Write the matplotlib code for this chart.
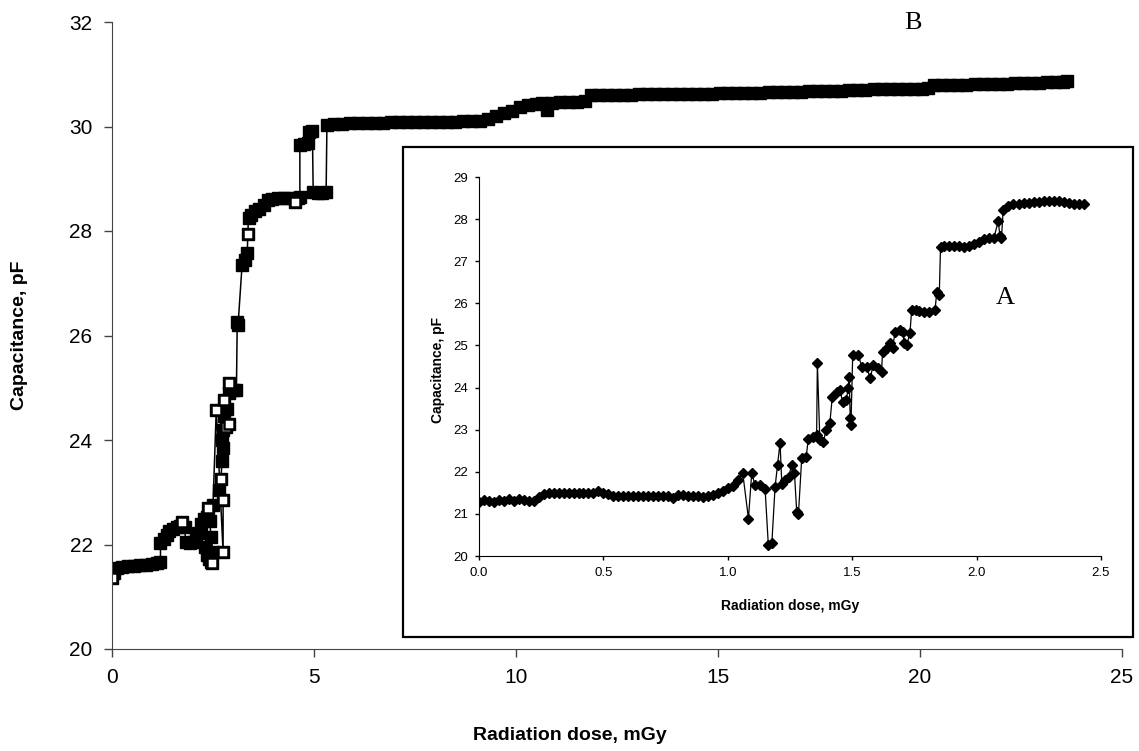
import matplotlib.pyplot as plt
from matplotlib.patches import Rectangle

plt.rcParams['font.family'] = ['Liberation Sans', 'DejaVu Sans']

# curve B (main plot): dose in mGy, capacitance in pF
dose_b = [
    0.00, 0.05, 0.12, 0.25, 0.40, 0.55, 0.70, 0.85, 1.00, 1.12, 1.20,
    1.20, 1.28, 1.35, 1.42, 1.50, 1.60, 1.68, 1.74, 1.80,
    1.82, 1.92, 2.02, 2.08, 2.14, 2.20, 2.28, 2.36,
    2.30, 2.34, 2.40, 2.46, 2.48, 2.50, 2.45, 2.42, 2.38, 2.50,
    2.58, 2.75, 2.75, 2.65, 2.70, 2.72, 2.74, 2.72, 2.75, 2.82, 2.90,
    2.78, 2.85, 2.78, 2.90, 2.90, 3.00, 3.08,
    3.10, 3.12, 3.22, 3.30, 3.35, 3.36, 3.38, 3.45, 3.55, 3.65, 3.75,
    3.85, 3.95, 4.10, 4.25, 4.40, 4.52, 4.60, 4.65,
    4.65, 4.75, 4.84, 4.88, 4.96, 4.98, 5.10, 5.20, 5.30,
    5.32, 5.50, 5.70, 5.90, 6.10, 6.30, 6.50, 6.70, 6.90, 7.10, 7.30,
    7.50, 7.70, 7.90, 8.10, 8.30, 8.50, 8.70, 8.90, 9.10,
    9.30, 9.50, 9.70, 9.90, 10.10, 10.30, 10.50, 10.65, 10.77, 10.90,
    11.10, 11.30, 11.50, 11.70, 11.85, 12.05, 12.25, 12.45, 12.65, 12.85,
    13.05, 13.25, 13.45, 13.65, 13.85, 14.05, 14.25, 14.45, 14.65, 14.85,
    15.05, 15.25, 15.45, 15.65, 15.85, 16.05, 16.25, 16.45, 16.65, 16.85,
    17.05, 17.25, 17.45, 17.65, 17.85, 18.05, 18.25, 18.45, 18.65, 18.85,
    19.05, 19.25, 19.45, 19.65, 19.85, 20.05, 20.20, 20.35, 20.55, 20.75,
    20.95, 21.15, 21.35, 21.55, 21.75, 21.95, 22.15, 22.35, 22.55, 22.75,
    22.95, 23.15, 23.35, 23.55, 23.65,
]
cap_b = [
    21.35, 21.45, 21.55, 21.57, 21.58, 21.58, 21.60, 21.61, 21.62, 21.64, 21.66,
    22.03, 22.10, 22.18, 22.26, 22.30, 22.33, 22.35, 22.43, 22.34,
    22.05, 22.03, 22.05, 22.20, 22.22, 22.40, 22.48, 22.52,
    21.95, 21.80, 21.72, 21.66, 21.65, 21.85, 22.15, 22.45, 22.70, 22.75,
    24.57, 21.86, 22.85, 23.05, 23.25, 23.60, 23.85, 24.00, 24.20, 24.25, 24.30,
    24.45, 24.60, 24.77, 24.90, 25.09, 24.95, 24.95,
    26.26, 26.20, 27.35, 27.45, 27.58, 27.95, 28.25, 28.30, 28.38, 28.42, 28.50,
    28.60, 28.62, 28.63, 28.63, 28.63, 28.55, 28.63, 28.65,
    29.65, 29.66, 29.68, 29.90, 29.92, 28.75, 28.73, 28.73, 28.75,
    30.03, 30.05, 30.05, 30.06, 30.06, 30.07, 30.07, 30.07, 30.08, 30.08, 30.08,
    30.08, 30.08, 30.09, 30.09, 30.09, 30.09, 30.10, 30.10, 30.11,
    30.14, 30.20, 30.26, 30.30, 30.37, 30.42, 30.44, 30.45, 30.31, 30.45,
    30.46, 30.46, 30.47, 30.48, 30.60, 30.61, 30.61, 30.61, 30.61, 30.61,
    30.62, 30.62, 30.62, 30.62, 30.62, 30.62, 30.62, 30.63, 30.63, 30.63,
    30.64, 30.64, 30.65, 30.65, 30.65, 30.65, 30.66, 30.66, 30.66, 30.66,
    30.66, 30.67, 30.67, 30.67, 30.67, 30.68, 30.70, 30.70, 30.70, 30.71,
    30.71, 30.71, 30.72, 30.72, 30.72, 30.72, 30.73, 30.79, 30.79, 30.80,
    30.80, 30.80, 30.81, 30.81, 30.82, 30.82, 30.82, 30.83, 30.83, 30.84,
    30.84, 30.85, 30.85, 30.86, 30.87,
]
# points of B that show as open squares
open_dose_b = [0.00, 1.74, 2.48, 2.38, 2.58, 2.75, 2.75, 2.70, 2.82, 2.90,
               2.78, 2.90, 3.36, 4.52]
open_cap_b = [21.35, 22.43, 21.65, 22.70, 24.57, 21.86, 22.85, 23.25, 24.25,
              24.30, 24.77, 25.09, 27.95, 28.55]

# curve A (inset)
dose_a = [
    0.00, 0.02, 0.04, 0.06, 0.08, 0.10, 0.12, 0.14, 0.16, 0.18, 0.20, 0.22,
    0.24, 0.26, 0.28, 0.30, 0.32, 0.34, 0.36, 0.38, 0.40, 0.42, 0.44, 0.46,
    0.48, 0.50, 0.52, 0.54, 0.56, 0.58, 0.60, 0.62, 0.64, 0.66, 0.68, 0.70,
    0.72, 0.74, 0.76, 0.78, 0.80, 0.82, 0.84, 0.86, 0.88, 0.90, 0.92, 0.94,
    0.96, 0.98, 1.00, 1.02, 1.04, 1.06,
    1.083, 1.096, 1.11, 1.13, 1.15, 1.163, 1.177, 1.19, 1.20, 1.21, 1.217,
    1.23, 1.244, 1.257, 1.268, 1.277, 1.284, 1.297, 1.315, 1.324, 1.344,
    1.357, 1.36, 1.37, 1.384, 1.395, 1.41, 1.42, 1.438, 1.45, 1.462, 1.475,
    1.485, 1.488, 1.492, 1.495, 1.502, 1.525, 1.538, 1.558, 1.572, 1.585,
    1.605, 1.618, 1.622, 1.638, 1.652, 1.663, 1.672, 1.692, 1.705, 1.708,
    1.719, 1.732, 1.739, 1.755, 1.77, 1.79, 1.81, 1.833, 1.84, 1.85,
    1.855, 1.87, 1.89, 1.91, 1.93, 1.95, 1.97, 1.99, 2.01, 2.03, 2.05, 2.07,
    2.087, 2.094, 2.10, 2.107, 2.127, 2.147, 2.17, 2.19, 2.21, 2.23, 2.25,
    2.27, 2.29, 2.31, 2.33, 2.35, 2.37, 2.39, 2.41, 2.43,
]
cap_a = [
    21.28, 21.32, 21.30, 21.28, 21.33, 21.30, 21.36, 21.30, 21.36, 21.32, 21.30, 21.30,
    21.40, 21.48, 21.50, 21.50, 21.50, 21.50, 21.50, 21.50, 21.50, 21.50, 21.50, 21.50,
    21.55, 21.50, 21.47, 21.42, 21.42, 21.42, 21.42, 21.42, 21.42, 21.42, 21.42, 21.42,
    21.42, 21.42, 21.42, 21.37, 21.45, 21.44, 21.43, 21.43, 21.43, 21.40, 21.42, 21.45,
    21.50, 21.55, 21.62, 21.66, 21.80, 21.97,
    20.89, 21.96, 21.68, 21.68, 21.58, 20.25, 20.30, 21.64, 22.16, 22.69, 21.72,
    21.80, 21.88, 22.16, 21.96, 21.05, 21.00, 22.32, 22.36, 22.79, 22.83,
    22.87, 24.58, 22.75, 22.71, 22.99, 23.15, 23.78, 23.90, 23.94, 23.66, 23.70,
    23.98, 24.26, 23.27, 23.11, 24.77, 24.77, 24.50, 24.50, 24.22, 24.54,
    24.46, 24.38, 24.85, 24.93, 25.05, 24.93, 25.33, 25.37, 25.33, 25.05,
    25.01, 25.29, 25.84, 25.84, 25.82, 25.80, 25.80, 25.84, 26.28, 26.20,
    27.34, 27.35, 27.35, 27.35, 27.35, 27.34, 27.36, 27.40, 27.46, 27.52, 27.55, 27.56,
    27.95, 27.59, 27.56, 28.22, 28.30, 28.36, 28.37, 28.38, 28.38, 28.40, 28.40,
    28.44, 28.44, 28.43, 28.42, 28.40, 28.38, 28.37, 28.36, 28.35,
]

x_ticks_main = [0, 5, 10, 15, 20, 25]
y_ticks_main = [20, 22, 24, 26, 28, 30, 32]
x_ticks_inset = [0.0, 0.5, 1.0, 1.5, 2.0, 2.5]
y_ticks_inset = [20, 21, 22, 23, 24, 25, 26, 27, 28, 29]

W, H = 1139, 751
fig = plt.figure(figsize=(W / 100, H / 100), dpi=100)


def px_box(left, top, right, bottom):
    # pixel edges -> figure fractions
    return [left / W, 1 - bottom / H, (right - left) / W, (bottom - top) / H]


ax = fig.add_axes(px_box(112, 22, 1122, 649))
ax.plot(dose_b, cap_b, color='black', lw=1.1, marker='s', ms=8,
        mfc='black', mec='black', mew=1)
ax.plot(open_dose_b, open_cap_b, ls='none', marker='s', ms=7,
        mfc='white', mec='black', mew=1.8)
ax.set_xlim(0, 25)
ax.set_ylim(20, 32)
ax.set_xticks(x_ticks_main)
ax.set_yticks(y_ticks_main)
for side in ('top', 'right'):
    ax.spines[side].set_visible(False)
for side in ('left', 'bottom'):
    ax.spines[side].set_color('#444444')
ax.tick_params(direction='out', length=6, width=1, color='#444444',
               labelsize=15, pad=8)
fig.text(20 / W, 1 - 335 / H, 'Capacitance, pF', rotation=90, ha='center',
         va='center', fontsize=14, fontweight='bold')
fig.text(570 / W, 1 - 735 / H, 'Radiation dose, mGy', ha='center',
         va='center', fontsize=14, fontweight='bold')
fig.text(913 / W, 1 - 23 / H, 'B', ha='center', va='center', fontsize=19,
         family='Liberation Serif')

# frame around the inset
fig.patches.append(Rectangle((403 / W, 1 - 637 / H), 730 / W, 490 / H,
                             transform=fig.transFigure, facecolor='white',
                             edgecolor='black', lw=1.6, zorder=1))

ins = fig.add_axes(px_box(479, 177, 1101, 556), zorder=2)
ins.plot(dose_a, cap_a, color='black', lw=0.9, marker='D', ms=5.5,
         mfc='black', mec='black')
ins.set_xlim(0, 2.5)
ins.set_ylim(20, 29)
ins.set_xticks(x_ticks_inset)
ins.set_xticklabels([f'{t:.1f}' for t in x_ticks_inset])
ins.set_yticks(y_ticks_inset)
for side in ('top', 'right'):
    ins.spines[side].set_visible(False)
ins.tick_params(direction='out', length=3, width=1, labelsize=9.5, pad=5)
fig.text(438 / W, 1 - 370 / H, 'Capacitance, pF', rotation=90, ha='center',
         va='center', fontsize=10, fontweight='bold')
fig.text(790 / W, 1 - 606 / H, 'Radiation dose, mGy', ha='center',
         va='center', fontsize=10, fontweight='bold')
fig.text(1005 / W, 1 - 298 / H, 'A', ha='center', va='center', fontsize=19,
         family='Liberation Serif')

fig.savefig('out.png', dpi=100)
